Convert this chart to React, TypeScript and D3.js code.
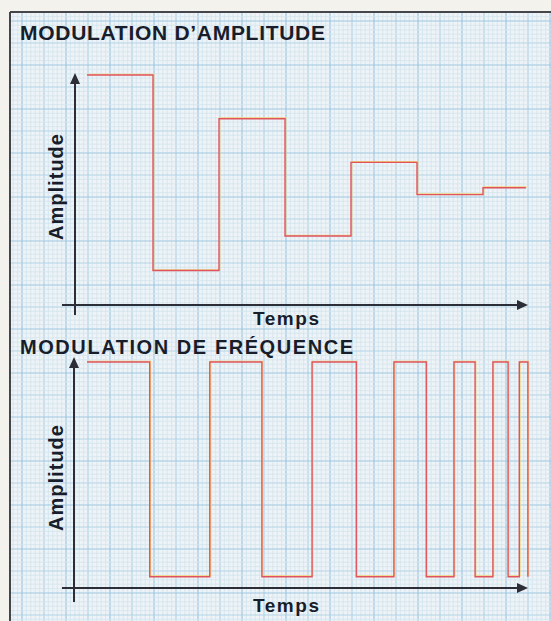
import React from 'react';
import * as d3 from 'd3';

// amplitude modulation: step start times and levels (last point closes the final step)
const amTimes = [0, 1, 2, 3, 4, 5, 6, 6.65];
const amValues = [1, 0.15, 0.81, 0.3, 0.62, 0.48, 0.51, 0.51];

// frequency modulation: switching times, alternating high / low
const fmTimes = [0, 0.95, 1.86, 2.65, 3.41, 4.08, 4.65, 5.14, 5.56, 5.88, 6.15, 6.38, 6.55, 6.68];
const fmValues = [1, 0.05, 1, 0.05, 1, 0.05, 1, 0.05, 1, 0.05, 1, 0.05, 1, 0.05];

const titles = ['MODULATION D\u2019AMPLITUDE', 'MODULATION DE FR\u00c9QUENCE'];
const yLabel = 'Amplitude';
const xLabel = 'Temps';

const W = 551, H = 621;
const ink = '#181d2b';
const axisCol = '#2b2e36';
const red = '#e0545e';
const yellow = '#f2d27a';
const font = '"Liberation Sans", Arial, sans-serif';

interface Point { t: number, v: number }

function Grid() {
    const x0 = 10, y0 = 12;
    const fine = 4.4;
    const vx = d3.range(22 - fine * 2, W, fine);
    const hy = d3.range(21 - fine * 2, H, fine);
    return (
        <g>
            <rect x={x0} y={y0} width={W - x0} height={H - y0} fill="#edf3f6" />
            {vx.map((x, i) => {
                const k = (i - 2) % 5 === 0;
                const major = k && Math.round((x - 22) / 22) % 2 === 0;
                if (x < x0) return null;
                return <line key={'v' + i} x1={x} x2={x} y1={y0} y2={H}
                    stroke={k ? (major ? '#9fc8e2' : '#b4d4e8') : '#d3e4ee'} strokeWidth={k ? 1.2 : 0.8} />;
            })}
            {hy.map((y, i) => {
                const k = (i - 2) % 5 === 0;
                const major = k && Math.round((y - 21) / 22) % 2 === 0;
                if (y < y0) return null;
                return <line key={'h' + i} x1={x0} x2={W} y1={y} y2={y}
                    stroke={k ? (major ? '#9fc8e2' : '#b4d4e8') : '#d3e4ee'} strokeWidth={k ? 1.2 : 0.8} />;
            })}
            <line x1={x0} x2={x0} y1={y0} y2={H} stroke="#44464c" strokeWidth={2} />
            <line x1={x0} x2={W} y1={y0} y2={y0} stroke="#44464c" strokeWidth={2} />
        </g>
    );
}

interface PanelProps {
    title: string,
    titleY: number,
    titleLen: number,
    titleSize: number,
    times: number[],
    values: number[],
    axisX: number,
    axisY: number,
    topY: number,
    highY: number,
    bottomExt: number,
    labelY: number,
    tempsY: number
}

function Panel(p: PanelProps) {
    const x = d3.scaleLinear().domain([0, 7]).range([87, 549]);
    const y = d3.scaleLinear().domain([0, 1]).range([p.axisY, p.highY]);
    const data: Point[] = p.times.map((t, i) => ({ t, v: p.values[i] }));
    const line = d3.line<Point>().x(d => x(d.t)).y(d => y(d.v)).curve(d3.curveStepAfter);
    const path = line(data) || '';
    const tipX = 528;
    return (
        <g>
            <text x={20} y={p.titleY} fontFamily={font} fontWeight="bold" fontSize={p.titleSize}
                fill={ink} textLength={p.titleLen} lengthAdjust="spacing">{p.title}</text>
            {/* signal, with the yellow misregistration of the print */}
            <path d={path} fill="none" stroke={yellow} strokeWidth={1.1} transform="translate(0.8,-0.8)" />
            <path d={path} fill="none" stroke={red} strokeWidth={1.4} />
            {/* axes */}
            <line x1={p.axisX} x2={p.axisX} y1={p.topY + 9} y2={p.axisY + p.bottomExt} stroke={axisCol} strokeWidth={2} />
            <path d={`M${p.axisX},${p.topY} L${p.axisX - 5},${p.topY + 11} L${p.axisX + 5},${p.topY + 11} Z`} fill={axisCol} />
            <line x1={62} x2={tipX - 9} y1={p.axisY} y2={p.axisY} stroke={axisCol} strokeWidth={2} />
            <path d={`M${tipX},${p.axisY} L${tipX - 11},${p.axisY - 5} L${tipX - 11},${p.axisY + 5} Z`} fill={axisCol} />
            <text transform={`translate(63,${p.labelY}) rotate(-90)`} textAnchor="middle" fontFamily={font}
                fontWeight="bold" fontSize={20} fill={ink} textLength={106} lengthAdjust="spacing">{yLabel}</text>
            <text x={286} y={p.tempsY} textAnchor="middle" fontFamily={font} fontWeight="bold" fontSize={19}
                fill={ink} textLength={66} lengthAdjust="spacing">{xLabel}</text>
        </g>
    );
}

export default function App() {
    return (
        <svg width={W} height={H} style={{ position: 'fixed', left: 0, top: 0, background: '#f4f2ec' }}>
            <Grid />
            <Panel title={titles[0]} titleY={40} titleLen={305} titleSize={21}
                times={amTimes} values={amValues}
                axisX={75} axisY={305} topY={73} highY={75} bottomExt={10} labelY={187} tempsY={325} />
            <Panel title={titles[1]} titleY={354} titleLen={333} titleSize={20}
                times={fmTimes} values={fmValues}
                axisX={74} axisY={588} topY={357} highY={362} bottomExt={14} labelY={478} tempsY={612} />
        </svg>
    );
}
